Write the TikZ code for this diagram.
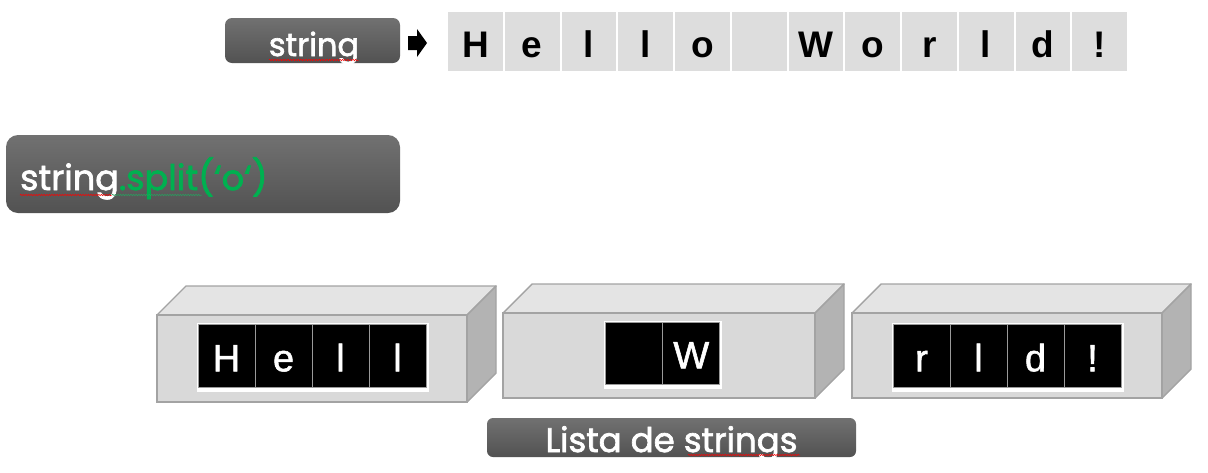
\documentclass[tikz,border=0pt]{standalone}
\usepackage{fontspec}
\setmainfont{Liberation Sans}
\newfontfamily\twfont{Poppins}[FakeBold=2]
\newfontfamily\cellfont{Liberation Sans}[FakeBold=1.5]
\usetikzlibrary{decorations.pathmorphing}
\definecolor{cellgray}{HTML}{DDDDDD}
\definecolor{boxtop}{HTML}{717171}
\definecolor{boxbot}{HTML}{525252}
\definecolor{pygreen}{HTML}{00B050}
\definecolor{facecol}{HTML}{D9D9D9}
\definecolor{topcol}{HTML}{E4E4E4}
\definecolor{sidecol}{HTML}{B3B3B3}
\definecolor{edgecol}{HTML}{A3A3A3}
\definecolor{sepcol}{HTML}{9A9A9A}
\tikzset{
  darkbox/.style={rounded corners=#1, top color=boxtop, bottom color=boxbot, draw=none, inner sep=0pt},
  darkbox/.default=7pt,
  topcell/.style={fill=cellgray, draw=none, minimum width=54.75pt, minimum height=59pt, inner sep=0pt,
    font=\fontsize{37}{37}\selectfont\bfseries, text height=31pt, text depth=0pt},
  front/.style={fill=facecol, draw=edgecol, line width=1.4pt, inner sep=0pt},
  topface/.style={fill=topcol, draw=edgecol, line width=1.4pt, line join=round},
  sideface/.style={fill=sidecol, draw=edgecol, line width=1.4pt, line join=round},
  whitepad/.style={fill=white, draw=none, inner sep=0pt},
  blackcell/.style={fill=black, draw=sepcol, line width=0.8pt, minimum width=57pt, minimum height=63pt, inner sep=0pt,
    text=white, font=\cellfont\fontsize{38}{38}\selectfont, text height=30.5pt, text depth=0pt},
  squig/.style={draw=#1, line width=0.5pt, decorate, decoration={snake, amplitude=0.7pt, segment length=2.6pt}},
  squig/.default=red,
  lbl/.style={text=white, inner sep=0pt, font=\twfont}
}
\newcommand{\boxdepth}{29}
\begin{document}
\begin{tikzpicture}[x=1pt,y=-1pt]
\useasboundingbox (0,0) rectangle (1208,472);
% top string box
\node[darkbox, minimum width=175pt, minimum height=45pt] (sbox) at (312.5,40.5) {};
\node[lbl, anchor=base, font=\twfont\fontsize{32}{32}\selectfont] (stxt) at (314,56) {string};
\coordinate (sq1a) at (269,60); \coordinate (sq1b) at (359,60);
\draw[squig] (sq1a) -- (sq1b);
% block arrow
\fill[black] (408,36) -- (417,36) -- (417,29) -- (427,43) -- (417,57) -- (417,50) -- (408,50) -- cycle;
% top cells
\foreach \ch [count=\i] in {H,e,l,l,o,{},W,o,r,l,d,!}{
  \node[topcell] (c\i) at ({447+56.75*(\i-0.5)},41.5) {\ch};
}
% split box
\node[darkbox=12pt, minimum width=394pt, minimum height=78pt] (split) at (203,174) {};
\node[lbl, anchor=base west, font=\twfont\fontsize{35}{35}\selectfont] (splittxt) at (20,190) {string\textcolor{pygreen}{.split(‘o‘)}};
\coordinate (sq2a) at (20,195); \coordinate (sq2b) at (112,195); \coordinate (sq2c) at (202,195);
\draw[squig] (sq2a) -- (sq2b);
\draw[squig=pygreen!70!gray] (sq2b) -- (sq2c);
% 3D boxes
\foreach \nm/\xa/\ya/\xb/\yb in {b1/157/315/467/402, b2/503/313/815/398, b3/852/313/1162/398}{
  \path[topface] (\xa,\ya) -- ++(\boxdepth,-\boxdepth) -- (\xb+\boxdepth,\ya-\boxdepth) -- (\xb,\ya) -- cycle;
  \path[sideface] (\xb,\ya) -- (\xb+\boxdepth,\ya-\boxdepth) -- (\xb+\boxdepth,\yb-\boxdepth) -- (\xb,\yb) -- cycle;
  \node[front, minimum width={(\xb-\xa)*1pt}, minimum height={(\yb-\ya)*1pt}] (\nm) at ({(\xa+\xb)/2},{(\ya+\yb)/2}) {};
}
% inner cells box 1
\node[whitepad, minimum width=232pt, minimum height=69pt] (w1) at (312.5,357) {};
\foreach \ch [count=\i] in {H,e,l,l}{
  \node[blackcell] (p\i) at ({198+57*(\i-0.5)},356) {\ch};
}
% inner cells box 2
\node[whitepad, minimum width=118pt, minimum height=68pt] (w2) at (662.5,354.5) {};
\foreach \ch [count=\i] in {{},W}{
  \node[blackcell, minimum height=62pt] (q\i) at ({605+57.5*(\i-0.5)},353) {\ch};
}
% inner cells box 3
\node[whitepad, minimum width=232pt, minimum height=69pt] (w3) at (1007.5,357) {};
\foreach \ch [count=\i] in {r,l,d,!}{
  \node[blackcell] (r\i) at ({893+57*(\i-0.5)},356) {\ch};
}
% Lista box
\node[darkbox=6pt, minimum width=369pt, minimum height=39pt] (lista) at (671.5,437.5) {};
\node[lbl, anchor=base, font=\twfont\fontsize{34}{34}\selectfont] (listatxt) at (671.5,452) {Lista de strings};
\coordinate (sq3a) at (688,455); \coordinate (sq3b) at (800,455);
\draw[squig] (sq3a) -- (sq3b);
\end{tikzpicture}
\end{document}
